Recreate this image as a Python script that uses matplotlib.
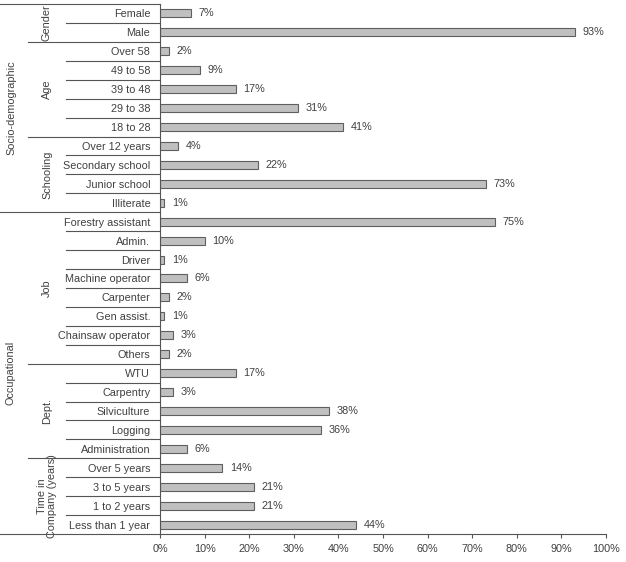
import matplotlib
matplotlib.use("Agg")
import matplotlib.pyplot as plt
from matplotlib.transforms import blended_transform_factory
from matplotlib.lines import Line2D

# data, top to bottom
labels = ["Female", "Male",
          "Over 58", "49 to 58", "39 to 48", "29 to 38", "18 to 28",
          "Over 12 years", "Secondary school", "Junior school", "Illiterate",
          "Forestry assistant", "Admin.", "Driver", "Machine operator", "Carpenter",
          "Gen assist.", "Chainsaw operator", "Others",
          "WTU", "Carpentry", "Silviculture", "Logging", "Administration",
          "Over 5 years", "3 to 5 years", "1 to 2 years", "Less than 1 year"]
values = [7, 93,
          2, 9, 17, 31, 41,
          4, 22, 73, 1,
          75, 10, 1, 6, 2, 1, 3, 2,
          17, 3, 38, 36, 6,
          14, 21, 21, 44]

# (name, number of rows)
subgroups = [("Gender", 2), ("Age", 5), ("Schooling", 4),
             ("Job", 8), ("Dept.", 5), ("Time in\nCompany (years)", 4)]
groups = [("Socio-demographic", 11), ("Occupational", 17)]

txt = "#404040"
line_c = "#555555"
plt.rcParams["font.family"] = ["Liberation Sans", "DejaVu Sans"]
plt.rcParams["font.size"] = 7.8

fig = plt.figure(figsize=(6.26, 5.62), dpi=100)
ax = fig.add_axes([160 / 626, 1 - 534 / 562, 446 / 626, 530 / 562])

n = len(labels)
ys = list(range(n))
ax.barh(ys, values, height=0.42, color="#c0c0c0", edgecolor="#5f5f5f", linewidth=0.8)
for y, v in zip(ys, values):
    ax.text(v + 1.7, y, f"{v}%", va="center", ha="left", color=txt)

ax.set_xlim(0, 100)
ax.set_ylim(n - 0.5, -0.5)
ax.set_xticks(range(0, 101, 10))
ax.set_xticklabels([f"{t}%" for t in range(0, 101, 10)], color=txt)
ax.set_yticks(ys)
ax.set_yticklabels(labels, color=txt)
ax.tick_params(axis="y", length=0, pad=7)
ax.tick_params(axis="x", length=3, color=line_c, pad=4)
for s in ["top", "right"]:
    ax.spines[s].set_visible(False)
for s in ["left", "bottom"]:
    ax.spines[s].set_color(line_c)
    ax.spines[s].set_linewidth(0.8)

tr = blended_transform_factory(fig.transFigure, ax.transData)
x_in = 66 / 626
x_sub = 28 / 626
x_ax = 160 / 626


def hline(y, x0):
    fig.add_artist(Line2D([x0, x_ax], [y, y], transform=tr, color=line_c, lw=0.8))


# separators between rows
sub_edges = []
k = 0
for _, cnt in subgroups:
    k += cnt
    sub_edges.append(k)
grp_edges = []
k = 0
for _, cnt in groups:
    k += cnt
    grp_edges.append(k)

for i in range(1, n):
    if i in grp_edges:
        hline(i - 0.5, 0)
    elif i in sub_edges:
        hline(i - 0.5, x_sub)
    else:
        hline(i - 0.5, x_in)
hline(-0.5, 0)
fig.add_artist(Line2D([0, 160 / 626], [n - 0.5, n - 0.5], transform=tr, color=line_c, lw=0.8))

# group labels
start = 0
for name, cnt in subgroups:
    mid = start + (cnt - 1) / 2
    fig.text(47 / 626, mid, name, transform=tr, rotation=90, ha="center", va="center",
             color=txt, linespacing=1.1)
    start += cnt
start = 0
for name, cnt in groups:
    mid = start + (cnt - 1) / 2
    fig.text(11 / 626, mid, name, transform=tr, rotation=90, ha="center", va="center",
             color=txt)
    start += cnt

fig.savefig("out.png", dpi=100)
